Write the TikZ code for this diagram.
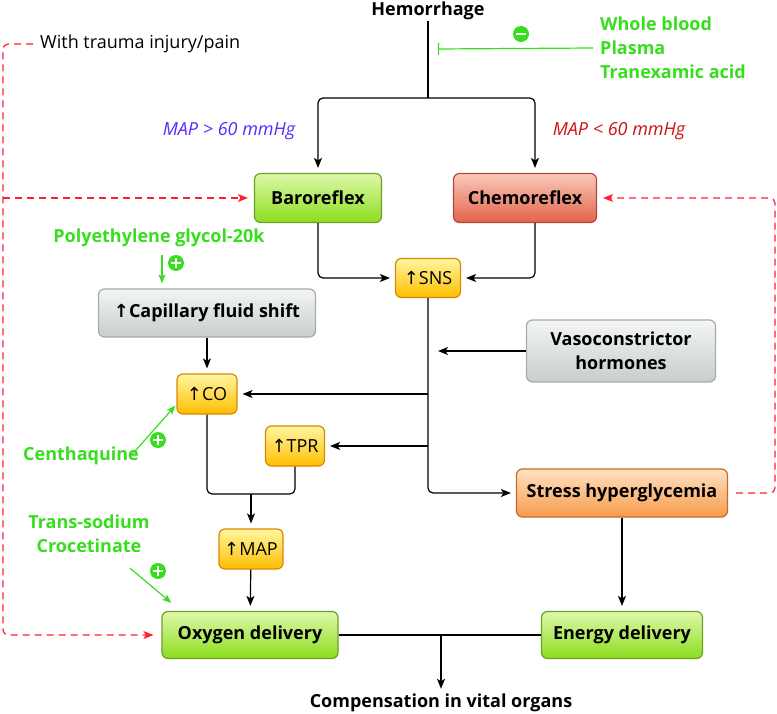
\documentclass[tikz,border=0pt]{standalone}
\usepackage{fontspec}
\setmainfont{Open Sans}
\newfontfamily\fleches{DejaVu Sans}
\usetikzlibrary{shapes}
\usetikzlibrary{arrows.meta}
\definecolor{medoc}{RGB}{55,222,30}
\definecolor{mapsup}{RGB}{90,40,255}
\definecolor{mapinf}{RGB}{204,17,17}
\definecolor{tiret}{RGB}{255,30,50}
\definecolor{vertclair}{RGB}{222,248,170}
\definecolor{vertfonce}{RGB}{140,222,30}
\definecolor{bordvert}{RGB}{110,160,40}
\definecolor{rougeclair}{RGB}{250,200,185}
\definecolor{rougefonce}{RGB}{226,100,75}
\definecolor{bordrouge}{RGB}{180,70,55}
\definecolor{jauneclair}{RGB}{255,246,160}
\definecolor{jaunefonce}{RGB}{255,190,0}
\definecolor{bordjaune}{RGB}{220,135,0}
\definecolor{grisclair}{RGB}{244,245,245}
\definecolor{grisfonce}{RGB}{200,205,205}
\definecolor{bordgris}{RGB}{165,172,172}
\definecolor{orangeclair}{RGB}{255,225,195}
\definecolor{orangefonce}{RGB}{246,155,75}
\definecolor{bordorange}{RGB}{200,105,40}
\newcommand{\taille}{\fontsize{18}{24}\selectfont}
\newcommand{\haut}{{\fleches ↑}}

\begin{document}
\begin{tikzpicture}[x=1pt,y=-1pt]
\tikzstyle{boite}=[rectangle,rounded corners=6pt,line width=1.2pt,font=\taille\bfseries,inner sep=2pt]
\tikzstyle{vertb}=[boite,draw=bordvert,top color=vertclair,bottom color=vertfonce,minimum height=49pt]
\tikzstyle{rougeb}=[boite,draw=bordrouge,top color=rougeclair,bottom color=rougefonce,minimum height=49pt]
\tikzstyle{jauneb}=[boite,draw=bordjaune,top color=jauneclair,bottom color=jaunefonce,minimum height=40pt,font=\taille]
\tikzstyle{grisb}=[boite,draw=bordgris,top color=grisclair,bottom color=grisfonce,minimum height=48pt]
\tikzstyle{orangeb}=[boite,draw=bordorange,top color=orangeclair,bottom color=orangefonce,minimum height=48pt]
\tikzstyle{medicament}=[text=medoc,font=\taille\bfseries,inner sep=0pt]
\tikzstyle{fleche}=[-{Stealth[length=10pt,width=8pt,inset=2.5pt]},line width=1.2pt,rounded corners=5pt,shorten >=5pt]
\tikzstyle{flechevert}=[-{Stealth[length=9pt,width=7pt,inset=2pt]},medoc,line width=1.2pt]
\tikzstyle{pointille}=[-{Stealth[length=10pt,width=8pt,inset=2.5pt]},tiret,line width=1.2pt,dash pattern=on 7pt off 5pt,rounded corners=5pt]
\tikzstyle{signeplus}=[circle,fill=medoc,minimum size=16pt,inner sep=0pt,
  path picture={\draw[white,line width=2.6pt] (path picture bounding box.center) +(-5pt,0) -- +(5pt,0) (path picture bounding box.center) +(0,-5pt) -- +(0,5pt);}]
\tikzstyle{signemoins}=[circle,fill=medoc,minimum size=16pt,inner sep=0pt,
  path picture={\draw[white,line width=2.6pt] (path picture bounding box.center) +(-5pt,0) -- +(5pt,0);}]
\useasboundingbox (0,0) rectangle (777,714);
% en haut
\node[font=\taille\bfseries,inner sep=0pt,anchor=base] (hemo) at (428,16) {Hemorrhage};
\node[anchor=west,font=\taille,inner sep=0pt] (trauma) at (40,44) {With trauma injury/pain};
\node[medicament,align=left,anchor=west] (sang) at (600,48) {Whole blood\\Plasma\\Tranexamic acid};
\coordinate (blocage) at (438,49);
\node[signemoins] (moins) at (521,34) {};
\coordinate (fourche) at (428,98);
\node[text=mapsup,font=\taille\itshape] (mapplus) at (229,131) {MAP > 60 mmHg};
\node[text=mapinf,font=\taille\itshape] (mapmoins) at (619,131) {MAP < 60 mmHg};
% reflexes
\node[vertb,minimum width=127pt] (baro) at (318,198) {Baroreflex};
\node[rougeb,minimum width=143pt] (chemo) at (525,198) {Chemoreflex};
\node[medicament] (peg) at (159,238) {Polyethylene glycol-20k};
\node[signeplus] (plus1) at (176,263) {};
\node[jauneb,minimum width=65pt,minimum height=39pt] (sns) at (428,278) {\haut SNS};
\node[grisb,minimum width=217pt] (capil) at (207,313) {\haut Capillary fluid shift};
\node[grisb,minimum width=189pt,minimum height=62pt,align=center] (vaso) at (621,351) {Vasoconstrictor\\hormones};
\node[jauneb,minimum width=60pt] (co) at (207,394) {\haut CO};
\node[jauneb,minimum width=59pt] (tpr) at (295,446) {\haut TPR};
\node[medicament] (centha) at (81,456) {Centhaquine};
\node[signeplus] (plus2) at (158,440) {};
\node[orangeb,minimum width=211pt] (stress) at (622,493) {Stress hyperglycemia};
\coordinate (jonction) at (251,494);
\node[medicament,align=center] (trans) at (89,534) {Trans-sodium\\Crocetinate};
\node[signeplus] (plus3) at (158,571) {};
\node[jauneb,minimum width=64pt] (map) at (251,549) {\haut MAP};
\node[vertb,minimum width=176pt,minimum height=47pt] (oxy) at (250,635) {Oxygen delivery};
\node[vertb,minimum width=161pt,minimum height=47pt] (energie) at (622,635) {Energy delivery};
\node[font=\taille\bfseries,inner sep=0pt] (compens) at (441,703) {Compensation in vital organs};
\coordinate (bordg) at (3,198);
\coordinate (bordd) at (775,198);
% flèches
\draw[line width=1.2pt] (hemo.south) -- (fourche);
\draw[fleche] (fourche) -| (baro.north);
\draw[fleche] (fourche) -| ([xshift=10pt]chemo.north);
\draw[medoc,line width=1.2pt,-{Bar[width=12pt]}] ([xshift=-7pt]sang.west) -- (blocage);
\draw[fleche] (baro.south) |- (sns.west);
\draw[fleche] ([xshift=10pt]chemo.south) |- (sns.east);
\draw[fleche] (sns.south) |- (stress.west);
\draw[fleche] (sns.south |- co.east) -- (co.east);
\draw[fleche] (sns.south |- tpr.east) -- (tpr.east);
\draw[fleche,shorten >=10pt] (vaso.west) -- (sns.south |- vaso.west);
\draw[fleche] (capil) -- (co);
\draw[line width=1.2pt,rounded corners=5pt] (co.south) |- (jonction) -| (tpr.south);
\draw[fleche] (jonction) -- (map);
\draw[fleche] (map) -- (oxy);
\draw[fleche] (stress) -- (energie);
\draw[line width=1.2pt] (oxy) -- (energie);
\draw[fleche] (oxy.east -| compens) -- (compens);
% médicaments
\draw[flechevert,shorten >=5pt] ([xshift=3pt]peg.south) ++(0,8) -- ([xshift=3pt]peg.south |- capil.north);
\draw[flechevert] ([shift={(-9,10)}]centha.north east) -- ([shift={(-1,-9)}]co.south west);
\draw[flechevert] ([shift={(41,15)}]trans.south) -- ([shift={(10,-8)}]oxy.north west);
% boucles
\draw[pointille,shorten <=7pt,shorten >=8pt] (trauma.west) -| (bordg) |- (oxy.west);
\draw[pointille,shorten >=6pt] (bordg) -- (baro.west);
\draw[pointille,shorten <=8pt,shorten >=6pt] (stress.east) -| (bordd) -- (chemo.east);
\end{tikzpicture}
\end{document}
